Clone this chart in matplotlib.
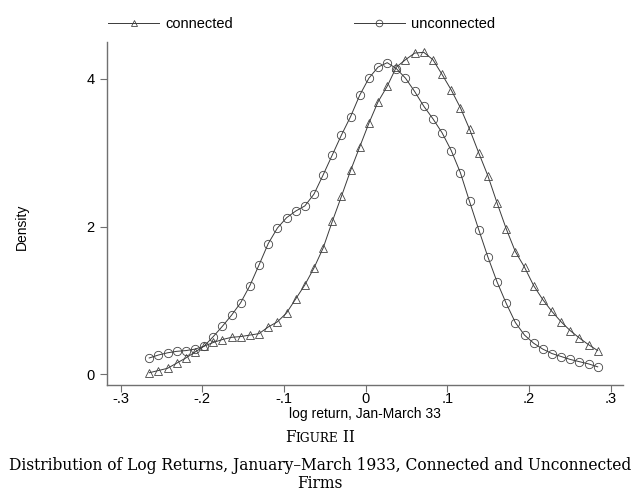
import matplotlib
matplotlib.use("Agg")
import matplotlib.pyplot as plt

# evaluation grid (log return)
log_return = [-0.2650, -0.2538, -0.2426, -0.2314, -0.2202, -0.2090, -0.1978, -0.1866, -0.1754, -0.1642,
              -0.1530, -0.1418, -0.1306, -0.1193, -0.1081, -0.0969, -0.0857, -0.0745, -0.0633, -0.0521,
              -0.0409, -0.0297, -0.0185, -0.0073, 0.0039, 0.0151, 0.0263, 0.0375, 0.0487, 0.0599,
              0.0711, 0.0823, 0.0935, 0.1047, 0.1159, 0.1271, 0.1383, 0.1495, 0.1608, 0.1720,
              0.1832, 0.1944, 0.2056, 0.2168, 0.2280, 0.2392, 0.2504, 0.2616, 0.2728, 0.2840]

connected = [0.02, 0.05, 0.08, 0.15, 0.22, 0.30, 0.38, 0.43, 0.47, 0.50,
             0.51, 0.53, 0.55, 0.64, 0.71, 0.83, 1.02, 1.21, 1.44, 1.71,
             2.07, 2.41, 2.76, 3.08, 3.40, 3.69, 3.90, 4.16, 4.26, 4.35,
             4.36, 4.26, 4.06, 3.85, 3.61, 3.32, 3.00, 2.69, 2.32, 1.97,
             1.66, 1.45, 1.20, 1.01, 0.85, 0.71, 0.59, 0.49, 0.40, 0.32]

unconnected = [0.22, 0.26, 0.29, 0.31, 0.32, 0.34, 0.38, 0.51, 0.65, 0.80,
               0.97, 1.20, 1.48, 1.77, 1.98, 2.12, 2.21, 2.28, 2.44, 2.70,
               2.97, 3.24, 3.49, 3.78, 4.01, 4.16, 4.22, 4.14, 4.01, 3.83,
               3.63, 3.46, 3.27, 3.03, 2.73, 2.34, 1.96, 1.59, 1.25, 0.96,
               0.70, 0.53, 0.42, 0.34, 0.28, 0.24, 0.20, 0.17, 0.14, 0.10]

x_ticks = [-0.3, -0.2, -0.1, 0.0, 0.1, 0.2, 0.3]
x_tick_labels = ["-.3", "-.2", "-.1", "0", ".1", ".2", ".3"]
y_ticks = [0, 2, 4]
y_tick_labels = ["0", "2", "4"]

plt.rcParams['font.family'] = ['Liberation Sans', 'DejaVu Sans']

W, H = 640, 503
fig = plt.figure(figsize=(W / 100, H / 100), dpi=100)
ax = fig.add_axes([107 / W, 1 - 385 / H, (622.7 - 107) / W, (385 - 42) / H])

line_col = '#3a3a3a'
mk_col = '#444444'
ax.plot(log_return, connected, color=line_col, lw=0.7, marker='^', markersize=6,
        markerfacecolor='none', markeredgecolor=mk_col, markeredgewidth=0.6, label='connected')
ax.plot(log_return, unconnected, color=line_col, lw=0.7, marker='o', markersize=6,
        markerfacecolor='none', markeredgecolor=mk_col, markeredgewidth=0.6, label='unconnected')

ax.set_xlim(-0.3167, 0.3146)
ax.set_ylim(-0.146, 4.50)
ax.spines['top'].set_visible(False)
ax.spines['right'].set_visible(False)
for s in ('left', 'bottom'):
    ax.spines[s].set_color('#707070')
    ax.spines[s].set_linewidth(1.0)
ax.set_xticks(x_ticks)
ax.set_xticklabels(x_tick_labels)
ax.set_yticks(y_ticks)
ax.set_yticklabels(y_tick_labels)
ax.tick_params(axis='both', direction='out', length=5, width=0.8, color='#707070',
               labelsize=10.5, labelcolor='black')
ax.tick_params(axis='x', pad=0)
ax.tick_params(axis='y', pad=4)

fig.text(365 / W, 1 - 414 / H, "log return, Jan-March 33", ha='center', va='center', fontsize=10)
fig.text(22 / W, 1 - 227 / H, "Density", ha='center', va='center', rotation=90, fontsize=10)

leg = ax.legend(loc='center left', bbox_to_anchor=(108 / W, 1 - 24 / H), bbox_transform=fig.transFigure,
                ncol=2, frameon=False, fontsize=10.5, handlelength=3.5, handletextpad=0.4,
                columnspacing=8.3, borderpad=0, borderaxespad=0, numpoints=1, markerscale=0.8)

# caption
serif = ['DejaVu Serif']
cap_fs = 11.2
fig.text(0.5, 1 - 465 / H, "Distribution of Log Returns, January\u2013March 1933, Connected and Unconnected",
         ha='center', va='center', fontsize=cap_fs, family=serif)
fig.text(0.5, 1 - 484 / H, "Firms", ha='center', va='center', fontsize=cap_fs, family=serif)

# small caps "FIGURE II", centred horizontally
base_y = 1 - 442 / H
parts = [("F", cap_fs), ("IGURE", cap_fs * 0.78), (" II", cap_fs)]
fig.canvas.draw()
renderer = fig.canvas.get_renderer()
texts = []
for s, fs in parts:
    t = fig.text(0, base_y, s, ha='left', va='baseline', fontsize=fs, family=serif)
    texts.append(t)
widths = [t.get_window_extent(renderer).width for t in texts]
total = sum(widths)
x0 = W / 2 - total / 2
for t, w in zip(texts, widths):
    t.set_x(x0 / W)
    x0 += w

fig.savefig("out.png", dpi=100)
